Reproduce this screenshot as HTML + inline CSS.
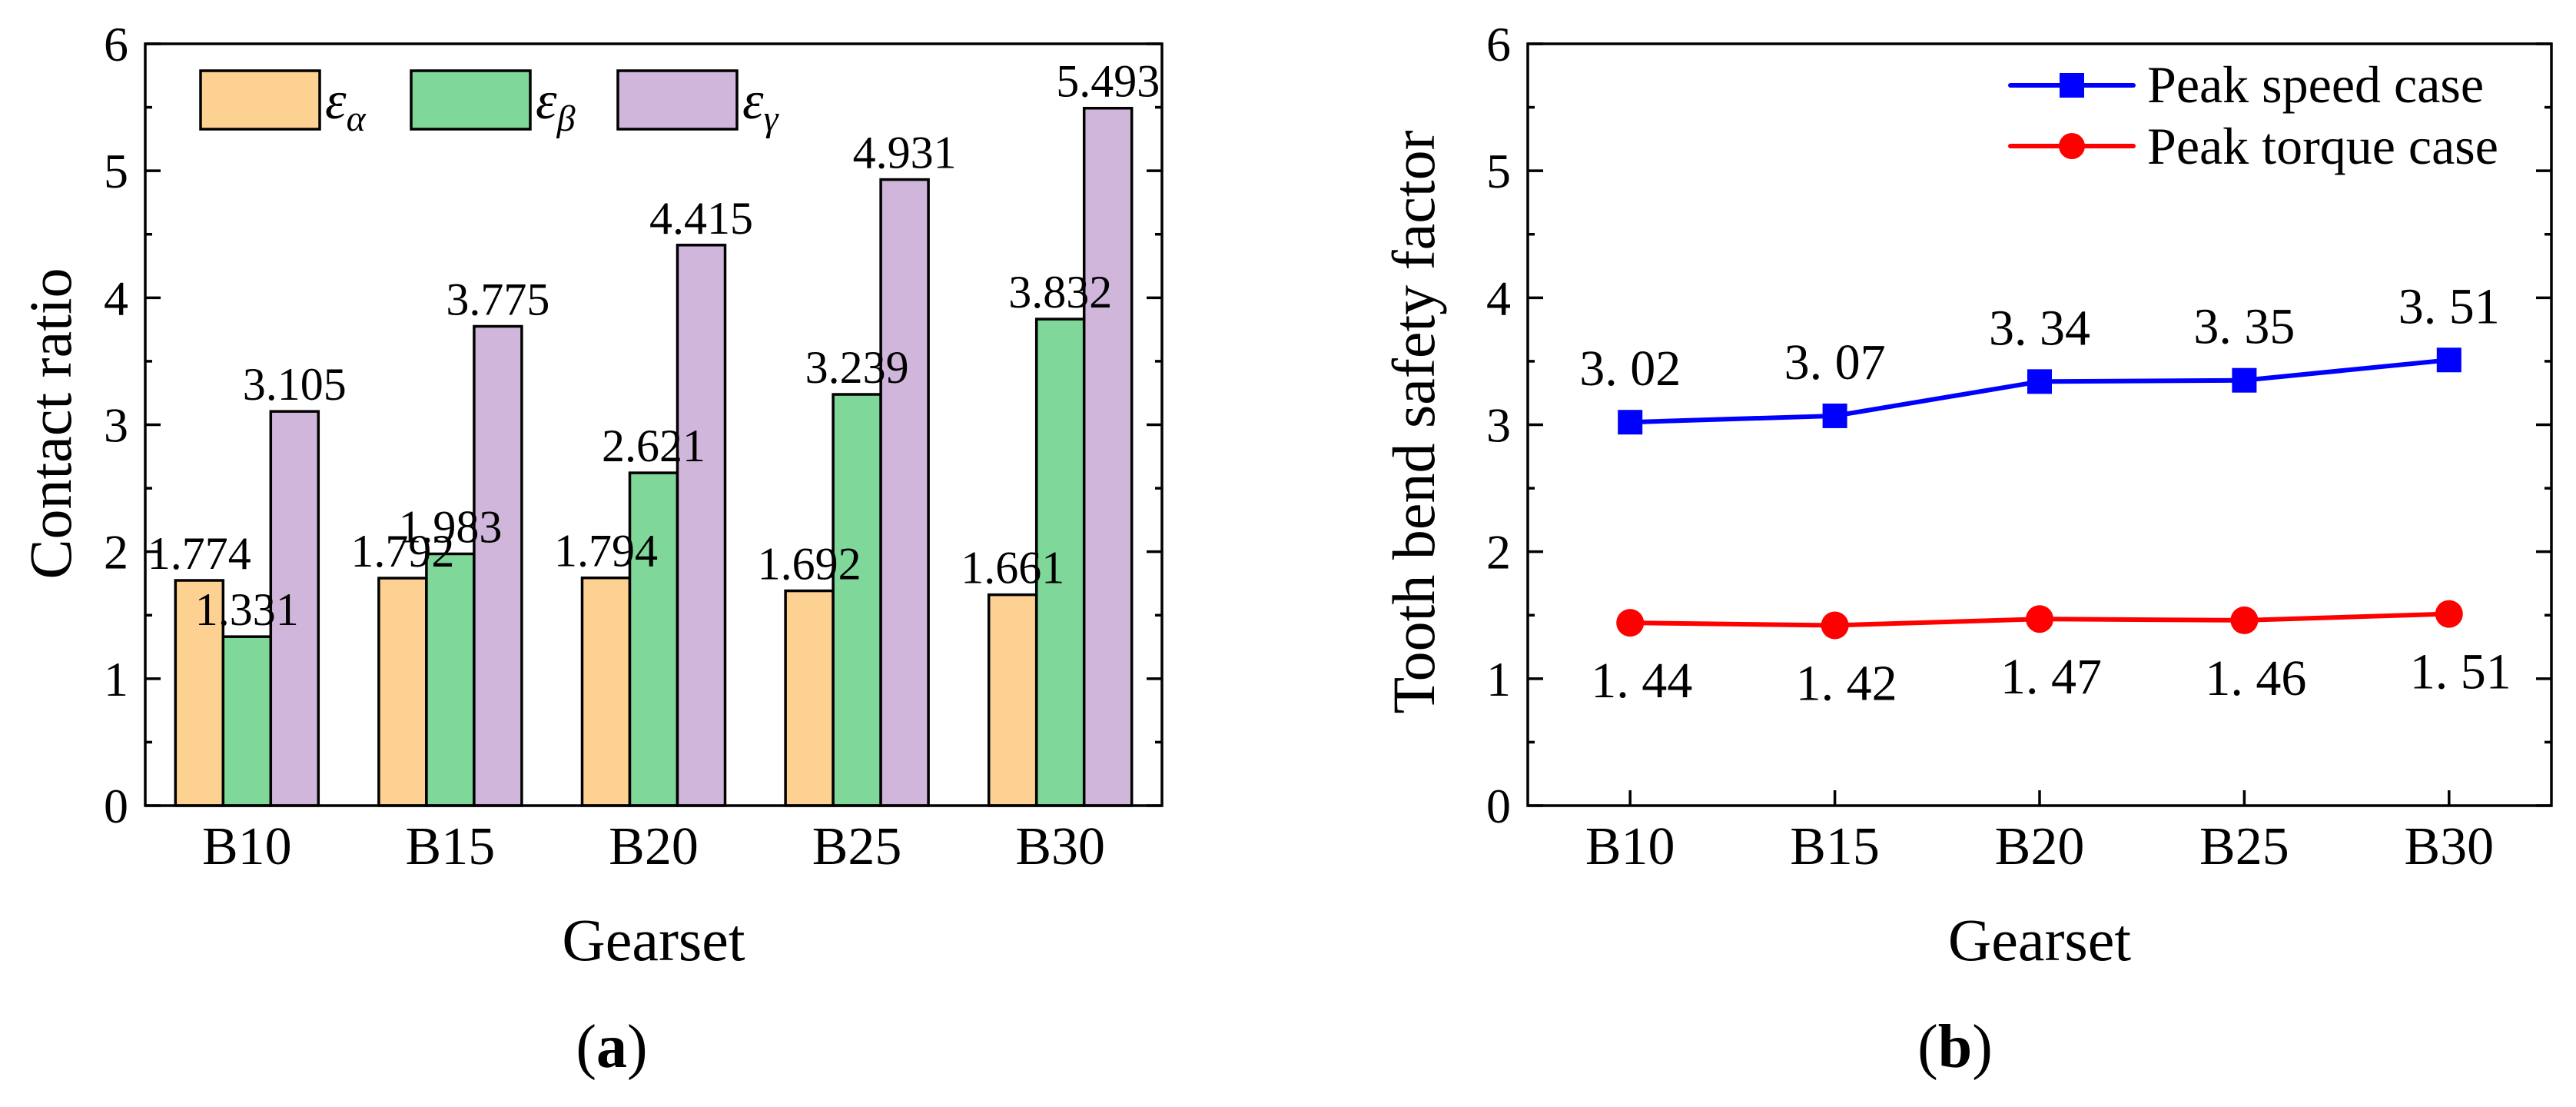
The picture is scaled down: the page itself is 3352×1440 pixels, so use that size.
<!DOCTYPE html>
<html><head><meta charset="utf-8"><style>
html,body{margin:0;padding:0;background:#fff;}
svg, svg text{font-family:"Liberation Serif","Times New Roman",serif;}
</style></head><body>
<svg id="fig" width="3352" height="1435" viewBox="0 0 3352 1435" xmlns="http://www.w3.org/2000/svg" font-family="Liberation Serif, serif">
<g id="pa"></g>
<g id="pb"></g>
</svg>
<script>
const categories = ['B10','B15','B20','B25','B30'];
const alphaVals = [1.774,1.792,1.794,1.692,1.661];
const betaVals = [1.331,1.983,2.621,3.239,3.832];
const gammaVals = [3.105,3.775,4.415,4.931,5.493];
const speedVals = [3.02,3.07,3.34,3.35,3.51];
const torqueVals = [1.44,1.42,1.47,1.46,1.51];
const yTicks = [0,1,2,3,4,5,6];

const NS='http://www.w3.org/2000/svg';
function mk(parent, tag, attrs, text){
  const e=document.createElementNS(NS,tag);
  if(tag==='text') e.setAttribute('font-family','Liberation Serif, Times New Roman, serif');
  for(const k in attrs) e.setAttribute(k,attrs[k]);
  if(text!==undefined) e.textContent=text;
  parent.appendChild(e); return e;
}
const Y0=1048, Y1=57, YMAX=6;
function yS(v){return Y0-(v/YMAX)*(Y0-Y1);}

function axes(g, L, R){
  const n=categories.length, band=(R-L)/n;
  for(let i=0;i<=12;i++){
    const v=i*0.5, y=yS(v), len=(i%2===0)?20:9;
    const t1=mk(g,'line',{x1:L,y1:y,x2:L+len,y2:y,stroke:'#000','stroke-width':3.5});
    
    
    const t2=mk(g,'line',{x1:R,y1:y,x2:R-len,y2:y,stroke:'#000','stroke-width':3.5});
    
    
  }
  yTicks.forEach(v=>{
    const t=mk(g,'text',{x:L-22,y:yS(v)+22,'font-size':64,'text-anchor':'end'},String(v));
    
    
  });
  categories.forEach((c,i)=>{
    const t=mk(g,'text',{x:L+band*(i+0.5),y:1124,'font-size':70,'text-anchor':'middle'},c);
    
    
  });
  const xt=mk(g,'text',{x:(L+R)/2,y:1249,'font-size':78,'text-anchor':'middle'},'Gearset');
  
  
  return band;
}
function frame(g,L,R){
  const f=mk(g,'rect',{x:L,y:Y1,width:R-L,height:Y0-Y1,fill:'none',stroke:'#000','stroke-width':3.5});
  
  
}

// ---- Chart (a)
(function(){
  const g=document.getElementById('pa');
  const L=189,R=1512;
  const band=axes(g,L,R);
  const bw=62;
  const series=[[alphaVals,'#fdd192','bar-alpha'],[betaVals,'#7fd79a','bar-beta'],[gammaVals,'#cfb6da','bar-gamma']];
  series.forEach((s,si)=>{
    s[0].forEach((v,i)=>{
      const cx=L+band*(i+0.5)+(si-1)*bw;
      const r=mk(g,'rect',{x:cx-bw/2,y:yS(v),width:bw,height:Y0-yS(v),fill:s[1],stroke:'#000','stroke-width':3.5});
      
      
    });
  });
  series.forEach((s,si)=>{
    s[0].forEach((v,i)=>{
      const cx=L+band*(i+0.5)+(si-1)*bw;
      const t=mk(g,'text',{x:cx,y:yS(v)-15,'font-size':60,'text-anchor':'middle'},v.toFixed(3));
      
      
    });
  });
  frame(g,L,R);
  const yt=mk(g,'text',{x:0,y:0,'font-size':78,'text-anchor':'middle',transform:'translate(92,551) rotate(-90)'},'Contact ratio');
  
  
  const leg=[[261,'#fdd192','α'],[535,'#7fd79a','β'],[804,'#cfb6da','γ']];
  leg.forEach(l=>{
    const b=mk(g,'rect',{x:l[0],y:92,width:155,height:76,fill:l[1],stroke:'#000','stroke-width':3.5});
    
    
    const t=mk(g,'text',{x:l[0]+162,y:154,'font-size':70,'font-style':'italic'});
    
    
    mk(t,'tspan',{},'ε');
    mk(t,'tspan',{dy:16,'font-size':48},l[2]);
  });
  const cap=mk(g,'text',{x:796,y:1388,'font-size':80,'text-anchor':'middle'});
  
  
  mk(cap,'tspan',{},'(');mk(cap,'tspan',{'font-weight':'bold'},'a');mk(cap,'tspan',{},')');
})();

// ---- Chart (b)
(function(){
  const g=document.getElementById('pb');
  const L=1988,R=3320;
  const band=axes(g,L,R);
  categories.forEach((c,i)=>{
    const x=L+band*(i+0.5);
    const t=mk(g,'line',{x1:x,y1:Y0,x2:x,y2:Y0-20,stroke:'#000','stroke-width':3.5});
    
    
  });
  frame(g,L,R);
  const xs=i=>L+band*(i+0.5);
  const sp=mk(g,'polyline',{points:speedVals.map((v,i)=>xs(i)+','+yS(v)).join(' '),fill:'none',stroke:'#0000ff','stroke-width':6});
  
  
  const tq=mk(g,'polyline',{points:torqueVals.map((v,i)=>xs(i)+','+yS(v)).join(' '),fill:'none',stroke:'#ff0000','stroke-width':6});
  
  
  speedVals.forEach((v,i)=>{
    const m=mk(g,'rect',{x:xs(i)-16,y:yS(v)-16,width:32,height:32,fill:'#0000ff'});
    
    
    const t=mk(g,'text',{x:xs(i),y:yS(v)-48,'font-size':66,'text-anchor':'middle'},v.toFixed(2).replace('.','. '));
    
    
  });
  torqueVals.forEach((v,i)=>{
    const m=mk(g,'circle',{cx:xs(i),cy:yS(v),r:18,fill:'#ff0000'});
    
    
    const t=mk(g,'text',{x:xs(i)+15,y:yS(v)+97,'font-size':66,'text-anchor':'middle'},v.toFixed(2).replace('.','. '));
    
    
  });
  const yt=mk(g,'text',{x:0,y:0,'font-size':78,'text-anchor':'middle',transform:'translate(1866,549) rotate(-90)'},'Tooth bend safety factor');
  
  
  const l1=mk(g,'line',{x1:2616,y1:111,x2:2776,y2:111,stroke:'#0000ff','stroke-width':6,'stroke-linecap':'round'});
  
  
  const s1=mk(g,'rect',{x:2680,y:95,width:32,height:32,fill:'#0000ff'});
  
  
  const t1=mk(g,'text',{x:2794,y:133,'font-size':68},'Peak speed case');
  
  
  const l2=mk(g,'line',{x1:2616,y1:190,x2:2776,y2:190,stroke:'#ff0000','stroke-width':6,'stroke-linecap':'round'});
  
  
  const s2=mk(g,'circle',{cx:2696,cy:190,r:17,fill:'#ff0000'});
  
  
  const t2=mk(g,'text',{x:2794,y:213,'font-size':68},'Peak torque case');
  
  
  const cap=mk(g,'text',{x:2544,y:1388,'font-size':80,'text-anchor':'middle'});
  
  
  mk(cap,'tspan',{},'(');mk(cap,'tspan',{'font-weight':'bold'},'b');mk(cap,'tspan',{},')');
})();
</script>
</body></html>
